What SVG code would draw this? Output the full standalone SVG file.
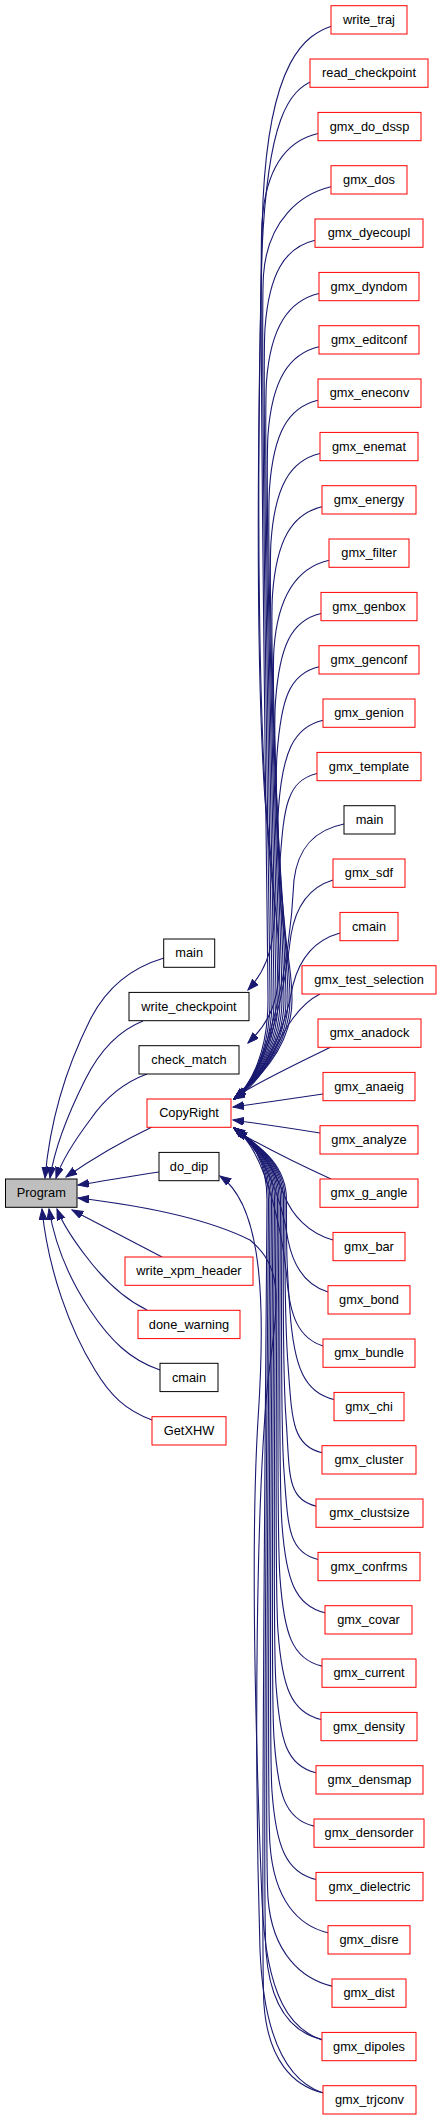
<svg xmlns="http://www.w3.org/2000/svg" width="443" height="2120" viewBox="0 0 443 2120">
<style>
.n rect{fill:#fff;stroke-width:1}
.r rect{stroke:#ff0000}
.b rect{stroke:#000}
.g rect{fill:#bfbfbf;stroke:#000}
text{font-family:"Liberation Sans",Arial,sans-serif;font-size:12.8px;text-anchor:middle;fill:#000}
#edges path{fill:none;stroke:#191970;stroke-width:1.1;marker-end:url(#a)}
</style>
<defs>
<marker id="a" markerWidth="12" markerHeight="9" refX="11" refY="4" orient="auto" markerUnits="userSpaceOnUse"><path d="M0,0 L11,4 L0,8 z" fill="#191970" stroke="#191970"/></marker>
</defs>
<rect width="443" height="2120" fill="#fff"/>
<g id="edges">
<path d="M164,958 C130,968 105,990 90,1020 C65,1070 50,1120 45,1178"/>
<path d="M143,1021 C120,1030 100,1050 85,1080 C70,1110 55,1145 50,1178"/>
<path d="M147,1074 C125,1082 105,1098 90,1120 C75,1140 62,1160 56,1178"/>
<path d="M152,1127 C125,1140 95,1157 66,1177"/>
<path d="M159,1172 C130,1176 105,1181 78,1185"/>
<path d="M162,1257 C135,1243 105,1227 72,1210"/>
<path d="M147,1310 C120,1297 100,1275 85,1255 C72,1238 62,1222 57,1209"/>
<path d="M160,1370 C130,1360 110,1340 90,1310 C70,1280 55,1245 49,1209"/>
<path d="M152,1420 C125,1410 110,1395 95,1370 C70,1330 48,1270 42,1209"/>
<path d="M323,2093 C290,2082 264,2045 260,1950 C254,1750 256,1500 268,1380 C278,1300 285,1270 250,1240 C200,1215 120,1203 78,1198"/>
<path d="M322,2040 C292,2030 266,2000 262,1900 C256,1750 250,1550 258,1420 C266,1300 262,1205 220,1176"/>
<path d="M332,26 C305,35 270,60 263,200 C258,400 255,650 265,800 C275,900 285,950 248,990"/>
<path d="M315,80 C288,90 268,120 262,250 C256,500 258,750 272,880 C285,980 282,1010 248,1043"/>
<path d="M318,133.5 C288,140.5 266,166.5 262,221.5 S268,950 268,1000 S252,1085 234,1099"/>
<path d="M331,186.8 C301,193.8 267.5,219.8 263.5,274.8 S270,950 270,1000 S252,1085 234,1099"/>
<path d="M315,240.2 C285,247.2 269,273.2 265,328.2 S272,950 272,1000 S252,1085 234,1099"/>
<path d="M319,293.5 C289,300.5 270.5,326.5 266.5,381.5 S274,950 274,1000 S252,1085 234,1099"/>
<path d="M319,346.8 C289,353.8 272,379.8 268,434.8 S276,950 276,1000 S252,1085 234,1099"/>
<path d="M318,400.2 C288,407.2 273.5,433.2 269.5,488.2 S278,950 278,1000 S252,1085 234,1099"/>
<path d="M320,453.5 C290,460.5 275,486.5 271,541.5 S280,950 280,1000 S252,1085 234,1099"/>
<path d="M322,506.8 C292,513.8 276.5,539.8 272.5,594.8 S282,950 282,1000 S252,1085 234,1099"/>
<path d="M329,560.2 C299,567.2 278,593.2 274,648.2 S284,950 284,1000 S252,1085 234,1099"/>
<path d="M321,613.5 C291,620.5 279.5,646.5 275.5,701.5 S286,950 286,1000 S252,1085 234,1099"/>
<path d="M319,666.8 C289,673.8 281,699.8 277,754.8 S288,950 288,1000 S252,1085 234,1099"/>
<path d="M323,720.2 C293,727.2 282.5,753.2 278.5,808.2 S290,950 290,1000 S252,1085 234,1099"/>
<path d="M317,773.5 C287,780.5 284,806.5 280,861.5 S292,950 292,1000 S252,1085 234,1099"/>
<path d="M344,824 C314,830 298,848 294,880 C290,960 270,1072 234,1099"/>
<path d="M333,880 C310,887 296,905 291,935 C285,985 270,1072 234,1099"/>
<path d="M340,933 C315,940 300,957 293,985 C287,1020 268,1075 234,1099"/>
<path d="M320,994 C298,1005 284,1030 272,1055 C262,1075 250,1090 234,1099"/>
<path d="M331,1047 C300,1062 262,1080 235,1097"/>
<path d="M323,1094 C295,1098 262,1103 233,1107"/>
<path d="M320,1133 C290,1128 262,1124 233,1120"/>
<path d="M331,1179 C300,1165 266,1148 236,1131"/>
<path d="M333,1240 C308,1233 292,1215 284,1195 C275,1170 258,1145 234,1128"/>
<path d="M328,1292 C305,1285 293,1265 288,1240 C283,1205 265,1150 234,1128"/>
<path d="M323,1346 C298,1338 290,1315 287,1280 C284,1245 268,1150 234,1128"/>
<path d="M334,1399.5 C304,1392.5 294,1366.5 290,1311.5 S286.5,1240 286.5,1200 S252,1142 234,1128"/>
<path d="M322,1452.8 C292,1445.8 292,1419.8 288,1364.8 S285,1240 285,1200 S252,1142 234,1128"/>
<path d="M316,1506.1 C286,1499.1 290,1473.1 286,1418.1 S283.5,1240 283.5,1200 S252,1142 234,1128"/>
<path d="M318,1559.5 C288,1552.5 288,1526.5 284,1471.5 S282,1240 282,1200 S252,1142 234,1128"/>
<path d="M325,1612.8 C295,1605.8 286,1579.8 282,1524.8 S280.5,1240 280.5,1200 S252,1142 234,1128"/>
<path d="M322,1666.1 C292,1659.1 284,1633.1 280,1578.1 S279,1240 279,1200 S252,1142 234,1128"/>
<path d="M321,1719.5 C291,1712.5 282,1686.5 278,1631.5 S277.5,1240 277.5,1200 S252,1142 234,1128"/>
<path d="M316,1772.8 C286,1765.8 280,1739.8 276,1684.8 S276,1240 276,1200 S252,1142 234,1128"/>
<path d="M314,1826.1 C284,1819.1 278,1793.1 274,1738.1 S274.5,1240 274.5,1200 S252,1142 234,1128"/>
<path d="M316,1879.5 C286,1872.5 276,1846.5 272,1791.5 S273,1240 273,1200 S252,1142 234,1128"/>
<path d="M328,1932.8 C298,1925.8 274,1899.8 270,1844.8 S271.5,1240 271.5,1200 S252,1142 234,1128"/>
<path d="M332,1986.1 C302,1979.1 272,1953.1 268,1898.1 S270,1240 270,1200 S252,1142 234,1128"/>
<path d="M322,2039.5 C292,2032.5 270,2006.5 266,1951.5 S268.5,1240 268.5,1200 S252,1142 234,1128"/>
<path d="M323,2092.8 C293,2085.8 268,2059.8 264,2004.8 S267,1240 267,1200 S252,1142 234,1128"/>
</g>
<g id="Program" class="n g"><rect x="5.5" y="1179" width="71.5" height="28.3"/><text x="41.3" y="1197.2">Program</text></g>
<g id="main_mid" class="n b"><rect x="163.7" y="939" width="51" height="28.3"/><text x="189.2" y="957.2">main</text></g>
<g id="write_checkpoint" class="n b"><rect x="129" y="992.4" width="120" height="28.3"/><text x="189" y="1010.5">write_checkpoint</text></g>
<g id="check_match" class="n b"><rect x="139" y="1045.7" width="100" height="28.3"/><text x="189" y="1063.9">check_match</text></g>
<g id="CopyRight" class="n r"><rect x="147" y="1099" width="84" height="28.3"/><text x="189" y="1117.2">CopyRight</text></g>
<g id="do_dip" class="n b"><rect x="159" y="1152.4" width="60" height="28.3"/><text x="189" y="1170.5">do_dip</text></g>
<g id="write_xpm_header" class="n r"><rect x="125" y="1257" width="128" height="28.3"/><text x="189" y="1275.2">write_xpm_header</text></g>
<g id="done_warning" class="n r"><rect x="138" y="1310.3" width="102" height="28.3"/><text x="189" y="1328.5">done_warning</text></g>
<g id="cmain_mid" class="n b"><rect x="160" y="1363.3" width="58" height="28.3"/><text x="189" y="1381.5">cmain</text></g>
<g id="GetXHW" class="n r"><rect x="152" y="1416.7" width="74" height="28.3"/><text x="189" y="1434.9">GetXHW</text></g>
<g id="write_traj" class="n r"><rect x="331" y="5.7" width="76" height="28.3"/><text x="369" y="23.9">write_traj</text></g>
<g id="read_checkpoint" class="n r"><rect x="310" y="59" width="118" height="28.3"/><text x="369" y="77.2">read_checkpoint</text></g>
<g id="gmx_do_dssp" class="n r"><rect x="318" y="112.4" width="103" height="28.3"/><text x="369.5" y="130.5">gmx_do_dssp</text></g>
<g id="gmx_dos" class="n r"><rect x="331" y="165.7" width="76" height="28.3"/><text x="369" y="183.9">gmx_dos</text></g>
<g id="gmx_dyecoupl" class="n r"><rect x="315" y="219" width="108" height="28.3"/><text x="369" y="237.2">gmx_dyecoupl</text></g>
<g id="gmx_dyndom" class="n r"><rect x="319" y="272.4" width="100" height="28.3"/><text x="369" y="290.5">gmx_dyndom</text></g>
<g id="gmx_editconf" class="n r"><rect x="319" y="325.7" width="100" height="28.3"/><text x="369" y="343.9">gmx_editconf</text></g>
<g id="gmx_eneconv" class="n r"><rect x="318" y="379" width="103" height="28.3"/><text x="369.5" y="397.2">gmx_eneconv</text></g>
<g id="gmx_enemat" class="n r"><rect x="320" y="432.4" width="98" height="28.3"/><text x="369" y="450.5">gmx_enemat</text></g>
<g id="gmx_energy" class="n r"><rect x="322" y="485.7" width="94" height="28.3"/><text x="369" y="503.9">gmx_energy</text></g>
<g id="gmx_filter" class="n r"><rect x="329" y="539" width="80" height="28.3"/><text x="369" y="557.2">gmx_filter</text></g>
<g id="gmx_genbox" class="n r"><rect x="321" y="592.4" width="96" height="28.3"/><text x="369" y="610.5">gmx_genbox</text></g>
<g id="gmx_genconf" class="n r"><rect x="319" y="645.7" width="100" height="28.3"/><text x="369" y="663.9">gmx_genconf</text></g>
<g id="gmx_genion" class="n r"><rect x="323" y="699" width="92" height="28.3"/><text x="369" y="717.2">gmx_genion</text></g>
<g id="gmx_template" class="n r"><rect x="317" y="752.4" width="104" height="28.3"/><text x="369" y="770.5">gmx_template</text></g>
<g id="main_right" class="n b"><rect x="344" y="805.7" width="51" height="28.3"/><text x="369.5" y="823.9">main</text></g>
<g id="gmx_sdf" class="n r"><rect x="333" y="859" width="72" height="28.3"/><text x="369" y="877.2">gmx_sdf</text></g>
<g id="cmain_right" class="n r"><rect x="340" y="912.4" width="58" height="28.3"/><text x="369" y="930.5">cmain</text></g>
<g id="gmx_test_selection" class="n r"><rect x="302" y="965.7" width="134" height="28.3"/><text x="369" y="983.9">gmx_test_selection</text></g>
<g id="gmx_anadock" class="n r"><rect x="318" y="1019" width="103" height="28.3"/><text x="369.5" y="1037.2">gmx_anadock</text></g>
<g id="gmx_anaeig" class="n r"><rect x="323" y="1072.4" width="92" height="28.3"/><text x="369" y="1090.5">gmx_anaeig</text></g>
<g id="gmx_analyze" class="n r"><rect x="320" y="1125.7" width="98" height="28.3"/><text x="369" y="1143.9">gmx_analyze</text></g>
<g id="gmx_g_angle" class="n r"><rect x="320" y="1179" width="98" height="28.3"/><text x="369" y="1197.2">gmx_g_angle</text></g>
<g id="gmx_bar" class="n r"><rect x="333" y="1232.4" width="72" height="28.3"/><text x="369" y="1250.5">gmx_bar</text></g>
<g id="gmx_bond" class="n r"><rect x="328" y="1285.7" width="82" height="28.3"/><text x="369" y="1303.9">gmx_bond</text></g>
<g id="gmx_bundle" class="n r"><rect x="323" y="1339" width="92" height="28.3"/><text x="369" y="1357.2">gmx_bundle</text></g>
<g id="gmx_chi" class="n r"><rect x="334" y="1392.4" width="70" height="28.3"/><text x="369" y="1410.5">gmx_chi</text></g>
<g id="gmx_cluster" class="n r"><rect x="322" y="1445.7" width="94" height="28.3"/><text x="369" y="1463.9">gmx_cluster</text></g>
<g id="gmx_clustsize" class="n r"><rect x="316" y="1499" width="107" height="28.3"/><text x="369.5" y="1517.2">gmx_clustsize</text></g>
<g id="gmx_confrms" class="n r"><rect x="318" y="1552.4" width="102" height="28.3"/><text x="369" y="1570.5">gmx_confrms</text></g>
<g id="gmx_covar" class="n r"><rect x="325" y="1605.7" width="87" height="28.3"/><text x="368.5" y="1623.9">gmx_covar</text></g>
<g id="gmx_current" class="n r"><rect x="322" y="1659" width="94" height="28.3"/><text x="369" y="1677.2">gmx_current</text></g>
<g id="gmx_density" class="n r"><rect x="321" y="1712.4" width="96" height="28.3"/><text x="369" y="1730.5">gmx_density</text></g>
<g id="gmx_densmap" class="n r"><rect x="316" y="1765.7" width="107" height="28.3"/><text x="369.5" y="1783.9">gmx_densmap</text></g>
<g id="gmx_densorder" class="n r"><rect x="314" y="1819" width="110" height="28.3"/><text x="369" y="1837.2">gmx_densorder</text></g>
<g id="gmx_dielectric" class="n r"><rect x="316" y="1872.4" width="107" height="28.3"/><text x="369.5" y="1890.5">gmx_dielectric</text></g>
<g id="gmx_disre" class="n r"><rect x="328" y="1925.7" width="82" height="28.3"/><text x="369" y="1943.9">gmx_disre</text></g>
<g id="gmx_dist" class="n r"><rect x="332" y="1979" width="74" height="28.3"/><text x="369" y="1997.2">gmx_dist</text></g>
<g id="gmx_dipoles" class="n r"><rect x="322" y="2032.4" width="94" height="28.3"/><text x="369" y="2050.5">gmx_dipoles</text></g>
<g id="gmx_trjconv" class="n r"><rect x="323" y="2085.7" width="93" height="28.3"/><text x="369.5" y="2103.9">gmx_trjconv</text></g>
</svg>
